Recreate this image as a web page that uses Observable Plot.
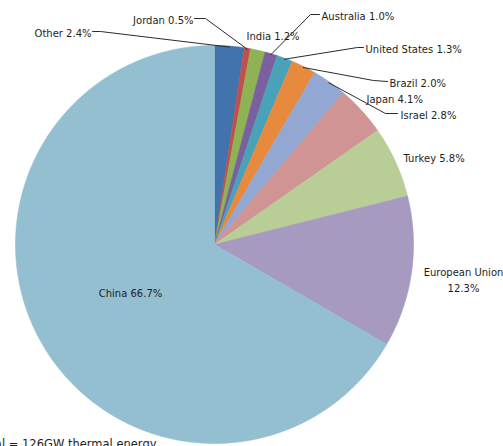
<!DOCTYPE html>
<html>
<head>
<meta charset="utf-8">
<script src="https://cdn.jsdelivr.net/npm/d3@7"></script>
<script src="https://cdn.jsdelivr.net/npm/@observablehq/plot@0.6"></script>
<style>
  html, body { margin: 0; padding: 0; background: #fff; overflow: hidden; }
  #chart svg { display: block; }
</style>
</head>
<body>
<div id="chart"></div>
<script>
// ---- data (clockwise from 12 o'clock) ----
const regions = ["Other", "Jordan", "India", "Australia", "United States", "Brazil", "Israel", "Japan", "Turkey", "European Union", "China"];
const shares  = [2.4, 0.5, 1.2, 1.0, 1.3, 2.0, 2.8, 4.1, 5.8, 12.3, 66.7];
const sliceColors = ["#4373ad", "#c0504d", "#8fb254", "#7a609e", "#4aa2b8", "#e88a3e", "#92a8d2", "#d19494", "#b9cd96", "#a79ac0", "#93bfd1"];
const footnote = "Total = 126GW thermal energy";

// ---- layout (pixels) ----
const W = 503, H = 446;
const cx = 214, cy = 244, R = 199;
const toU = (px, py) => [(px - cx) / R, (cy - py) / R];

// label placement
const labelLayout = {
  "Other":          {x: 91,  y: 31,  anchor: "end",    elbow: [100, 31], end: [92, 31]},
  "Jordan":         {x: 193, y: 18,  anchor: "end",    elbow: [205, 18], end: [194, 18]},
  "India":          {x: 246, y: 34,  anchor: "start"},
  "Australia":      {x: 321, y: 14,  anchor: "start",  elbow: [310, 14], end: [319, 14]},
  "United States":  {x: 365, y: 47,  anchor: "start",  elbow: [357, 47], end: [363, 47]},
  "Brazil":         {x: 389, y: 81,  anchor: "start",  elbow: [373, 80], end: [387, 81]},
  "Japan":          {x: 366, y: 97,  anchor: "start"},
  "Israel":         {x: 400, y: 113, anchor: "start",  elbow: [385, 113], end: [397, 113]},
  "Turkey":         {x: 403, y: 156, anchor: "start"},
  "European Union": {x: 463, y: 278, anchor: "middle", twoLine: true},
  "China":          {x: 130, y: 291, anchor: "middle"}
};

// ---- slice polygons in unit-circle coordinates ----
const total = d3.sum(shares);
let cum = 0;
const slices = regions.map((name, i) => {
  const a0 = cum / total * 2 * Math.PI;
  cum += shares[i];
  const a1 = cum / total * 2 * Math.PI;
  const pts = [{x: 0, y: 0}];
  const n = Math.max(2, Math.ceil((a1 - a0) / (Math.PI / 360)));
  for (let k = 0; k <= n; k++) {
    const a = a0 + (a1 - a0) * k / n;
    pts.push({x: Math.sin(a), y: Math.cos(a)});
  }
  pts.push({x: 0, y: 0});
  return {name, color: sliceColors[i], pts, mid: (a0 + a1) / 2};
});

// leader lines
const leaders = [];
slices.forEach(s => {
  const L = labelLayout[s.name];
  if (!L.elbow) return;
  const p0 = {x: Math.sin(s.mid) * 0.995, y: Math.cos(s.mid) * 0.995, name: s.name};
  const [ex, ey] = toU(...L.elbow);
  const [tx, ty] = toU(...L.end);
  leaders.push(p0, {x: ex, y: ey, name: s.name}, {x: tx, y: ty, name: s.name});
});

// labels
const labels = regions.map((name, i) => {
  const L = labelLayout[name];
  const [x, y] = toU(L.x, L.y);
  const text = L.twoLine ? `${name}\n${shares[i].toFixed(1)}%` : `${name} ${shares[i].toFixed(1)}%`;
  return {x, y, text, anchor: L.anchor};
});

const [fx, fy] = toU(156, 439);

const marks = [
  ...slices.map(s => Plot.line(s.pts, {x: "x", y: "y", fill: s.color, stroke: s.color, strokeWidth: 0.6, curve: "linear-closed"})),
  Plot.line(leaders, {x: "x", y: "y", z: "name", stroke: "#2b2b2b", strokeWidth: 1}),
  ...["start", "middle", "end"].map(a => Plot.text(labels.filter(d => d.anchor === a), {
    x: "x", y: "y", text: "text", textAnchor: a, lineAnchor: "middle",
    fill: "#1e1e1e", fontSize: 10, fontFamily: "DejaVu Sans", lineHeight: 1.6
  })),
  Plot.text([{x: fx, y: fy, t: footnote}], {x: "x", y: "y", text: "t", textAnchor: "end", lineAnchor: "top", fill: "#1e1e1e", fontSize: 11.5, fontFamily: "DejaVu Sans"})
];

const chart = Plot.plot({
  width: W, height: H,
  margin: 0,
  style: {background: "#fff", overflow: "hidden"},
  x: {domain: [-1, 1], range: [cx - R, cx + R], axis: null},
  y: {domain: [-1, 1], range: [cy + R, cy - R], axis: null},
  marks
});
document.getElementById("chart").appendChild(chart);
</script>
</body>
</html>
